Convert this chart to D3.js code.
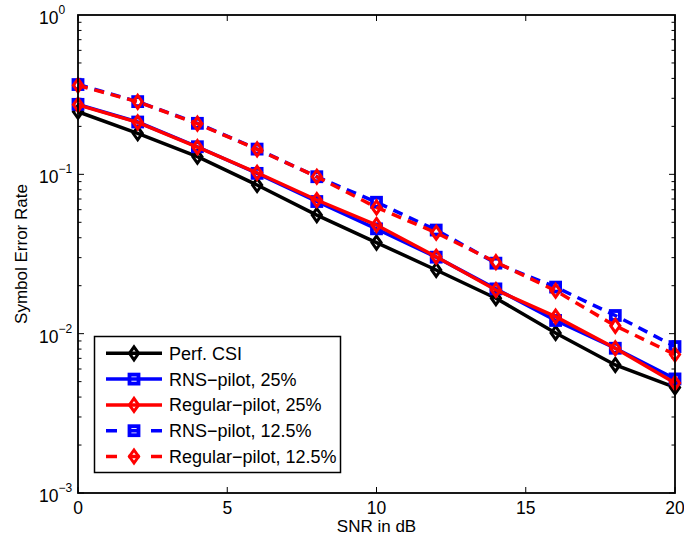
<!DOCTYPE html>
<html>
<head>
<meta charset="utf-8">
<script src="https://cdn.jsdelivr.net/npm/d3@7"></script>
<style>
  body { margin: 0; background: #fff; }
  text { font-family: "Liberation Sans", Arial, sans-serif; }
</style>
</head>
<body>
<script>
// data
var snr = [0, 2, 4, 6, 8, 10, 12, 14, 16, 18, 20];
var perfCSI = [0.247, 0.181, 0.129, 0.0857, 0.0555, 0.0373, 0.0251, 0.0167, 0.0101, 0.00636, 0.0046];
var rns25 = [0.275, 0.213, 0.149, 0.1014, 0.0675, 0.0455, 0.0302, 0.0191, 0.0121, 0.0081, 0.0052];
var reg25 = [0.273, 0.212, 0.148, 0.1023, 0.069, 0.0481, 0.0304, 0.0188, 0.0128, 0.0081, 0.0049];
var rns125 = [0.366, 0.286, 0.209, 0.144, 0.0966, 0.0668, 0.0447, 0.0277, 0.0196, 0.0130, 0.0083];
var reg125 = [0.362, 0.285, 0.208, 0.1435, 0.0966, 0.062, 0.043, 0.0281, 0.0186, 0.0112, 0.0074];
var seriesNames = ["Perf. CSI", "RNS\u2212pilot, 25%", "Regular\u2212pilot, 25%", "RNS\u2212pilot, 12.5%", "Regular\u2212pilot, 12.5%"];
var xTicks = [0, 5, 10, 15, 20];
var yExps = [0, -1, -2, -3];

var series = [
    { name: seriesNames[0], values: perfCSI, color: "#000", marker: "d", dash: null },
    { name: seriesNames[1], values: rns25, color: "#0000ff", marker: "s", dash: null },
    { name: seriesNames[2], values: reg25, color: "#ff0000", marker: "d", dash: null },
    { name: seriesNames[3], values: rns125, color: "#0000ff", marker: "s", dash: "10,7" },
    { name: seriesNames[4], values: reg125, color: "#ff0000", marker: "d", dash: "10,7" }
];

var W = 684, H = 541;
var pLeft = 78, pRight = 675, pTop = 15, pBottom = 493;

var svg = d3.select("body").append("svg")
    .attr("width", W)
    .attr("height", H);

var x = d3.scaleLinear().domain([0, 20]).range([pLeft, pRight]);
var y = d3.scaleLog().domain([1e-3, 1]).range([pBottom, pTop]);

// ticks (inward, on all four sides)
var ticksG = svg.append("g").attr("stroke", "#000").attr("stroke-width", 1);
xTicks.forEach(function (t) {
    ticksG.append("line").attr("x1", x(t)).attr("x2", x(t)).attr("y1", pBottom).attr("y2", pBottom - 6);
    ticksG.append("line").attr("x1", x(t)).attr("x2", x(t)).attr("y1", pTop).attr("y2", pTop + 6);
});
for (var e = -3; e < 0; e++) {
    for (var m = 1; m <= 9; m++) {
        var v = m * Math.pow(10, e);
        var len = m === 1 ? 6 : 3.5;
        ticksG.append("line").attr("x1", pLeft).attr("x2", pLeft + len).attr("y1", y(v)).attr("y2", y(v));
        ticksG.append("line").attr("x1", pRight).attr("x2", pRight - len).attr("y1", y(v)).attr("y2", y(v));
    }
}

// tick labels
svg.selectAll(".xlab").data(xTicks).enter().append("text")
    .attr("x", function (d) { return x(d); })
    .attr("y", 514)
    .attr("text-anchor", "middle")
    .attr("font-size", 17.5)
    .text(function (d) { return d; });

yExps.forEach(function (p) {
    var t = svg.append("text")
        .attr("x", 39)
        .attr("y", y(Math.pow(10, p)) + 9)
        .attr("font-size", 17.5);
    t.append("tspan").text("10");
    t.append("tspan").attr("font-size", 12).attr("dy", -10)
        .text(p === 0 ? "0" : "\u2212" + (-p));
});

// axis labels
svg.append("text")
    .attr("x", (pLeft + pRight) / 2)
    .attr("y", 532)
    .attr("text-anchor", "middle")
    .attr("font-size", 17)
    .text("SNR in dB");
svg.append("text")
    .attr("transform", "translate(27," + ((pTop + pBottom) / 2) + ") rotate(-90)")
    .attr("text-anchor", "middle")
    .attr("font-size", 17)
    .text("Symbol Error Rate");

// markers
function drawMarker(g, cx, cy, type, color) {
    if (type === "d") {
        g.append("path")
            .attr("d", "M" + cx + "," + (cy - 6.5) + "L" + (cx + 4.6) + "," + cy + "L" + cx + "," + (cy + 6.5) + "L" + (cx - 4.6) + "," + cy + "Z")
            .attr("fill", "none")
            .attr("stroke", color)
            .attr("stroke-width", 3);
    } else {
        g.append("rect")
            .attr("x", cx - 4.5).attr("y", cy - 4.5)
            .attr("width", 9).attr("height", 9)
            .attr("fill", "none")
            .attr("stroke", color)
            .attr("stroke-width", 3.8);
    }
}

var line = d3.line()
    .x(function (d, i) { return x(snr[i]); })
    .y(function (d) { return y(d); });

var plotG = svg.append("g");
series.forEach(function (s) {
    plotG.append("path")
        .attr("d", line(s.values))
        .attr("fill", "none")
        .attr("stroke", s.color)
        .attr("stroke-width", 3.5)
        .attr("stroke-dasharray", s.dash);
    s.values.forEach(function (v, i) {
        drawMarker(plotG, x(snr[i]), y(v), s.marker, s.color);
    });
});

// box
svg.append("rect")
    .attr("x", pLeft).attr("y", pTop)
    .attr("width", pRight - pLeft).attr("height", pBottom - pTop)
    .attr("fill", "none")
    .attr("stroke", "#000")
    .attr("stroke-width", 1.8);

// legend
var lg = svg.append("g");
lg.append("rect")
    .attr("x", 94.5).attr("y", 336.5)
    .attr("width", 246).attr("height", 136)
    .attr("fill", "#fff")
    .attr("stroke", "#000")
    .attr("stroke-width", 1.5);
series.forEach(function (s, i) {
    var ly = 353.3 + i * 25.8;
    lg.append("line")
        .attr("x1", 106).attr("x2", 162)
        .attr("y1", ly).attr("y2", ly)
        .attr("stroke", s.color)
        .attr("stroke-width", 3.5)
        .attr("stroke-dasharray", s.dash ? "11,11.5" : null);
    drawMarker(lg, 134, ly, s.marker, s.color);
    lg.append("text")
        .attr("x", 169)
        .attr("y", ly + 6.5)
        .attr("font-size", 18)
        .text(s.name);
});
</script>
</body>
</html>
